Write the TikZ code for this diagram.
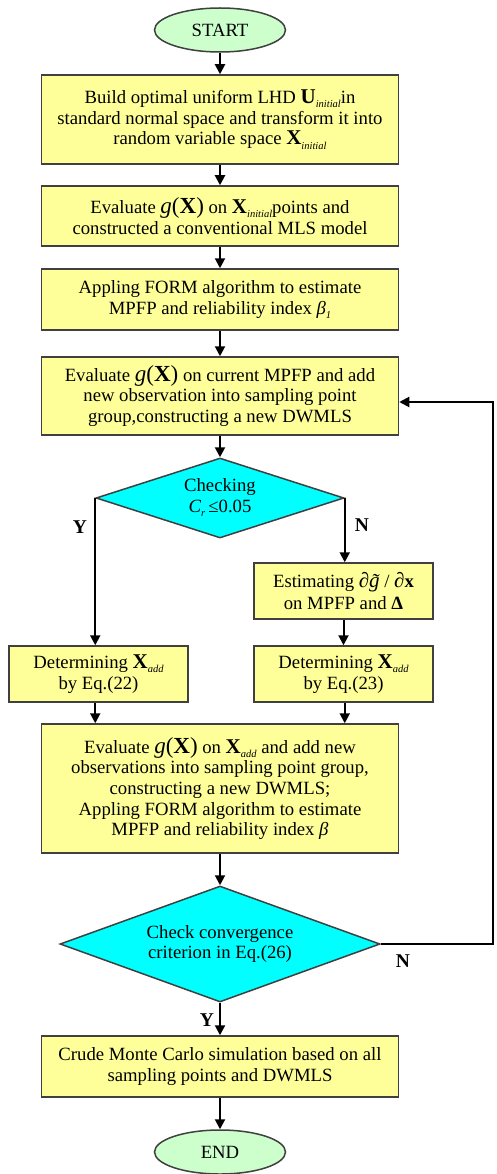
\documentclass[tikz,border=0pt]{standalone}
\usepackage{fontspec}
\setmainfont{Liberation Serif}
\usetikzlibrary{shapes.geometric,arrows.meta}
\definecolor{boxfill}{HTML}{FFFF99}
\definecolor{dfill}{HTML}{00FFFF}
\definecolor{efill}{HTML}{CCFFCC}
\definecolor{bord}{HTML}{404040}
\newcommand\sbi[1]{\raisebox{-0.5ex}{\fontsize{10.5}{10.5}\selectfont\itshape #1}}
\newcommand\gXX{{\fontsize{23}{23}\selectfont\itshape g\/\upshape(\textbf{X})}}
\newcommand\bX{{\fontsize{21}{21}\selectfont\textbf{X}}}
\newcommand\bU{{\fontsize{21}{21}\selectfont\textbf{U}}}
\begin{document}
\begin{tikzpicture}[x=1pt,y=-1pt,
  every node/.style={font=\fontsize{18.7}{20.7}\selectfont, align=center, text=black},
  pbox/.style={draw=bord, line width=1.5pt, fill=boxfill, inner sep=0pt, minimum width=357pt},
  sbox/.style={draw=bord, line width=1.5pt, fill=boxfill, inner sep=0pt, minimum width=179pt, minimum height=56pt},
  term/.style={ellipse, draw=bord, line width=1.5pt, fill=efill, inner sep=0pt, minimum width=131pt, minimum height=44pt},
  dec/.style={diamond, draw=bord, line width=1.5pt, fill=dfill, inner sep=0pt},
  arr/.style={line width=2pt, -{Triangle[width=10pt,length=10pt]}},
  lbl/.style={font=\fontsize{19.5}{20.7}\selectfont\bfseries}]
\useasboundingbox (0,0) rectangle (496,1174);
\node[term] (start) at (220,30) {START};
\node[pbox, minimum height=89pt] (b1) at (220,119.5) {Build optimal uniform LHD \bU\sbi{initial}in\\standard normal space and transform it into\\random variable space \bX\sbi{initial}};
\node[pbox, minimum height=60pt] (b2) at (220,216) {Evaluate \gXX{} on \bX\sbi{initial}points and\\constructed a conventional MLS model};
\node[pbox, minimum height=61pt] (b3) at (220,299.5) {Appling FORM algorithm to estimate\\MPFP and reliability index \textit{β}\sbi{1}};
\node[pbox, minimum height=78pt] (b4) at (220,396) {Evaluate \gXX{} on current MPFP and add\\new observation into sampling point\\group,constructing a new DWMLS};
\node[dec, minimum width=248pt, minimum height=80pt, aspect=3.1] (d1) at (220,498) {Checking\\\textit{C}\sbi{r}\,≤0.05};
\node[sbox] (est) at (343.5,591) {Estimating {\fontsize{21}{21}\selectfont\itshape ∂g̃} / {\fontsize{21}{21}\selectfont\itshape ∂}\textbf{x}\\[1pt]on MPFP and \textbf{Δ}};
\node[sbox] (b5l) at (98.5,674) {Determining \bX\sbi{add}\\by Eq.(22)};
\node[sbox] (b5r) at (343.5,674) {Determining \bX\sbi{add}\\by Eq.(23)};
\node[pbox, minimum height=129pt] (big) at (220,788.5) {Evaluate \gXX{} on \bX\sbi{add} and add new\\observations into sampling point group,\\constructing a new DWMLS;\\Appling FORM algorithm to estimate\\MPFP and reliability index \textit{β}};
\node[dec, minimum width=320pt, minimum height=116pt, aspect=2.76] (d2) at (220,944) {Check convergence\\criterion in Eq.(26)};
\node[pbox, minimum height=61pt] (last) at (220,1066.5) {Crude Monte Carlo simulation based on all\\sampling points and DWMLS};
\node[term] (end) at (220,1152) {END};
\coordinate (fb) at (493,944);
\coordinate (fbt) at (493,402);
\draw[arr] (start) -- (b1);
\draw[arr] (b1) -- (b2);
\draw[arr] (b2) -- (b3);
\draw[arr] (b3) -- (b4);
\draw[arr] (b4) -- (d1);
\draw[arr] (d1.west) -- (d1.west |- b5l.north);
\draw[arr] (d1.east) -- (d1.east |- est.north);
\draw[arr] (est) -- (b5r);
\draw[arr] (d1.west |- b5l.south) -- (d1.west |- big.north);
\draw[arr] (d1.east |- b5r.south) -- (d1.east |- big.north);
\draw[arr] (big) -- (d2);
\draw[arr] (d2) -- (last);
\draw[arr] (last) -- (end);
\draw[arr] (d2.east) -- (fb) -- (fbt) -- (fbt -| b4.east);
\node[lbl] (y1) at (80,527) {Y};
\node[lbl] (n1) at (362,525) {N};
\node[lbl] (n2) at (403,961) {N};
\node[lbl] (y2) at (207,1020) {Y};
\end{tikzpicture}
\end{document}
